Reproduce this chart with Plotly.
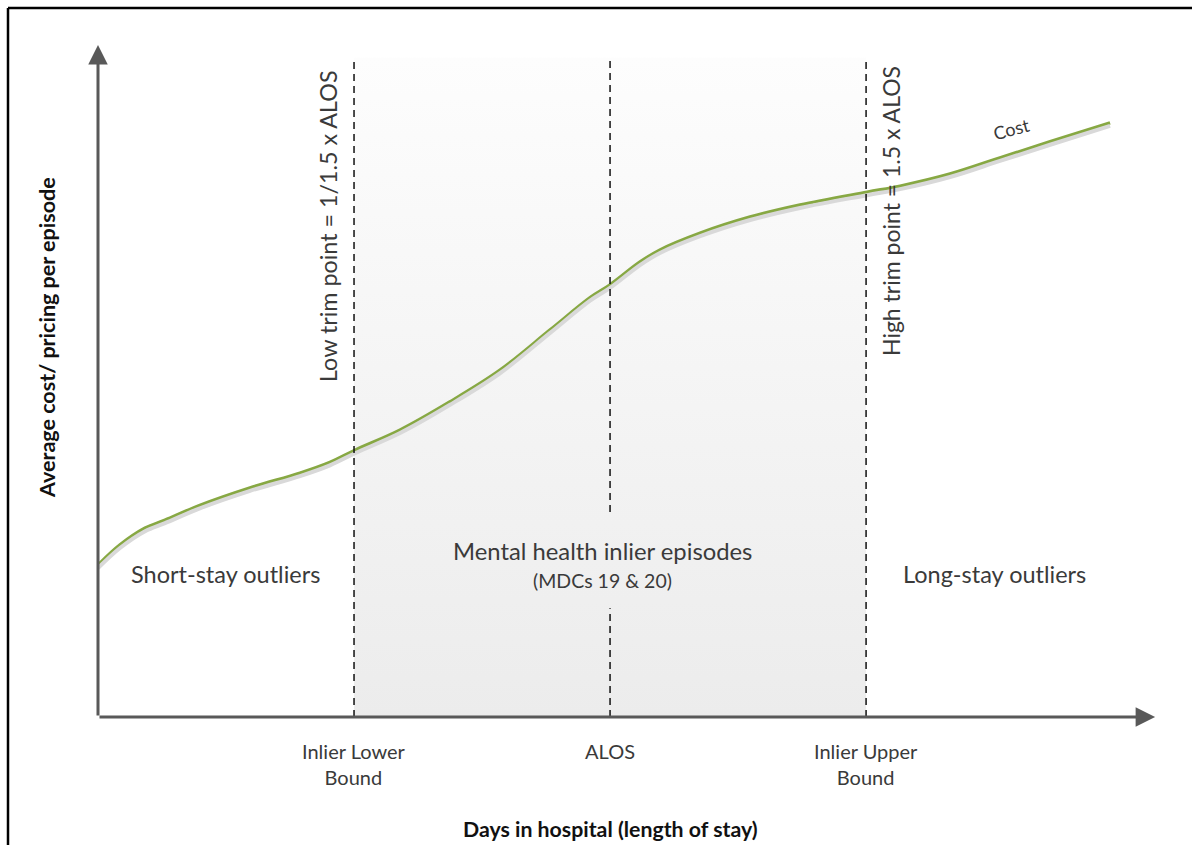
import plotly.graph_objects as go

W, H = 1192, 845

# ---- data (days in hospital vs average cost) ----
days = [0, 0.86, 1.84, 2.62, 3.98, 5.94, 7.89, 9.06, 10.04, 11.8, 13.75, 15.7,
        17.66, 19.22, 20.0, 21.17, 21.95, 23.52, 25.47, 27.42, 30.04, 31.33,
        33.28, 35.23, 37.19, 39.53]
cost = [22.6, 25.6, 28.1, 29.3, 31.5, 34.1, 36.3, 37.9, 39.7, 42.7, 46.9, 51.6,
        57.6, 62.4, 64.3, 67.7, 69.5, 72.0, 74.4, 76.2, 78.1, 79.0, 80.8, 83.2,
        85.6, 88.4]
bound_x = [10, 20, 30]
bound_labels = ["Inlier Lower<br>Bound", "ALOS", "Inlier Upper<br>Bound"]
region_labels = ["Short-stay outliers", "Mental health inlier episodes", "Long-stay outliers"]
band_top = 98.1

X_MAX = 41.48
Y_MAX = 100.0
FONT = "Lato"
TXT = "#3a3a3a"


def px(x):
    return x / W


def py(y):
    return 1 - y / H


fig = go.Figure()

# shaded inlier band with vertical gradient
fig.add_trace(go.Scatter(
    x=[bound_x[0], bound_x[2], bound_x[2], bound_x[0], bound_x[0]],
    y=[0, 0, band_top, band_top, 0],
    fill="toself", mode="lines", line=dict(width=0),
    fillgradient=dict(type="vertical",
                      colorscale=[[0, "#ececec"], [1, "#fdfdfd"]]),
    hoverinfo="skip", showlegend=False))

# shadow of cost curve (on shifted overlay axis)
fig.add_trace(go.Scatter(
    x=days, y=cost, mode="lines", yaxis="y2",
    line=dict(color="#d9d9d9", width=4, shape="spline", smoothing=1.0),
    hoverinfo="skip", showlegend=False))

# cost curve
fig.add_trace(go.Scatter(
    x=days, y=cost, mode="lines",
    line=dict(color="#87a843", width=3.5, shape="spline", smoothing=1.0),
    hoverinfo="skip", showlegend=False))

shapes = []
# dashed bound lines
for i, bx in enumerate(bound_x):
    if i == 1:
        segs = [(0, 16.2), (30.5, band_top)]
    else:
        segs = [(0, band_top)]
    for y0, y1 in segs:
        shapes.append(dict(type="line", xref="x", yref="y", x0=bx, x1=bx,
                           y0=y0, y1=y1, layer="above",
                           line=dict(color="#111111", width=1.5, dash="7px,5px")))

# outer frame (top and left edges)
shapes.append(dict(type="line", xref="paper", yref="paper", x0=px(8), x1=1.0,
                   y0=py(8), y1=py(8), line=dict(color="#000000", width=2.5)))
shapes.append(dict(type="line", xref="paper", yref="paper", x0=px(8), x1=px(8),
                   y0=py(8), y1=0, line=dict(color="#000000", width=2.5)))

ann = []
# axes with arrows
ann.append(dict(x=41.29, y=0, ax=0, ay=0, xref="x", yref="y", axref="x", ayref="y",
                text="", showarrow=True, arrowhead=2, arrowsize=1.3, arrowwidth=3,
                arrowcolor="#595959"))
ann.append(dict(x=0, y=Y_MAX, ax=0, ay=0, xref="x", yref="y", axref="x", ayref="y",
                text="", showarrow=True, arrowhead=2, arrowsize=1.3, arrowwidth=3,
                arrowcolor="#595959"))

# tick labels
for bx, lab in zip(bound_x, bound_labels):
    ann.append(dict(x=bx, y=0, xref="x", yref="y", text=lab, showarrow=False,
                    xanchor="center", yanchor="top", yshift=-20,
                    font=dict(family=FONT, size=20, color=TXT)))

# region labels
ann.append(dict(x=px(225), y=py(574), xref="paper", yref="paper", text=region_labels[0],
                showarrow=False, xanchor="center", yanchor="middle",
                font=dict(family=FONT, size=23.5, color=TXT)))
ann.append(dict(x=px(602), y=py(551), xref="paper", yref="paper", text=region_labels[1],
                showarrow=False, xanchor="center", yanchor="middle",
                font=dict(family=FONT, size=23.8, color=TXT)))
ann.append(dict(x=px(602), y=py(580), xref="paper", yref="paper", text="(MDCs 19 & 20)",
                showarrow=False, xanchor="center", yanchor="middle",
                font=dict(family=FONT, size=19.5, color=TXT)))
ann.append(dict(x=px(995), y=py(574), xref="paper", yref="paper", text=region_labels[2],
                showarrow=False, xanchor="center", yanchor="middle",
                font=dict(family=FONT, size=23.5, color=TXT)))

# rotated trim labels
ann.append(dict(x=px(328), y=py(226), xref="paper", yref="paper",
                text="Low trim point = 1/1.5 x ALOS", textangle=-90,
                showarrow=False, xanchor="center", yanchor="middle",
                font=dict(family=FONT, size=23.3, color=TXT)))
ann.append(dict(x=px(891), y=py(211), xref="paper", yref="paper",
                text="High trim point = 1.5 x ALOS", textangle=-90,
                showarrow=False, xanchor="center", yanchor="middle",
                font=dict(family=FONT, size=23, color=TXT)))

# curve label
ann.append(dict(x=px(1011), y=py(129), xref="paper", yref="paper", text="Cost",
                textangle=-15, showarrow=False, xanchor="center", yanchor="middle",
                font=dict(family=FONT, size=18, color=TXT)))

# axis titles
ann.append(dict(x=px(610), y=py(829), xref="paper", yref="paper",
                text="<b>Days in hospital (length of stay)</b>",
                showarrow=False, xanchor="center", yanchor="middle",
                font=dict(family=FONT, size=21.3, color="#111111")))
ann.append(dict(x=px(47), y=py(338), xref="paper", yref="paper",
                text="<b>Average cost/ pricing per episode</b>", textangle=-90,
                showarrow=False, xanchor="center", yanchor="middle",
                font=dict(family=FONT, size=21.5, color="#111111")))

shift = 3 / ((717 - 45) / Y_MAX)

fig.update_layout(
    width=W, height=H,
    margin=dict(l=0, r=0, t=0, b=0),
    paper_bgcolor="white", plot_bgcolor="rgba(0,0,0,0)",
    showlegend=False,
    xaxis=dict(domain=[px(98), px(1160)], range=[0, X_MAX], visible=False, fixedrange=True),
    yaxis=dict(domain=[py(717), py(45)], range=[0, Y_MAX], visible=False, fixedrange=True),
    yaxis2=dict(overlaying="y", range=[0 + shift, Y_MAX + shift], visible=False, fixedrange=True),
    shapes=shapes,
    annotations=ann,
)

fig.write_html("out.html", config={"displayModeBar": False},
               post_script="document.body.style.margin='0';document.body.style.overflow='hidden';")
